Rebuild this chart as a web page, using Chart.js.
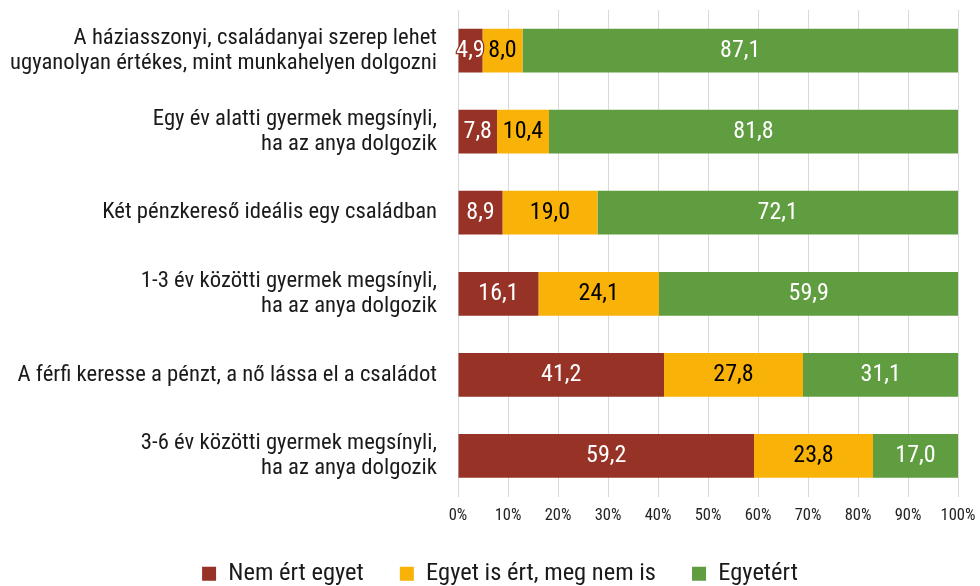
<!DOCTYPE html>
<html>
<head>
<meta charset="utf-8">
<script src="https://cdn.jsdelivr.net/npm/chart.js@4/dist/chart.umd.min.js"></script>
<style>
  html, body { margin: 0; padding: 0; background: #fff; }
  #wrap { width: 980px; height: 586px; position: relative; }
</style>
</head>
<body>
<div id="wrap"><canvas id="chart"></canvas></div>
<script>
const categories = [
  ["A háziasszonyi, családanyai szerep lehet", "ugyanolyan értékes, mint munkahelyen dolgozni"],
  ["Egy év alatti gyermek megsínyli,", "ha az anya dolgozik"],
  "Két pénzkereső ideális egy családban",
  ["1-3 év közötti gyermek megsínyli,", "ha az anya dolgozik"],
  "A férfi keresse a pénzt, a nő lássa el a családot",
  ["3-6 év közötti gyermek megsínyli,", "ha az anya dolgozik"],
];
const seriesNames = ["Nem ért egyet", "Egyet is ért, meg nem is", "Egyetért"];
const disagree = [4.9, 7.8, 8.9, 16.1, 41.2, 59.2];
const neutral = [8.0, 10.4, 19.0, 24.1, 27.8, 23.8];
const agree = [87.1, 81.8, 72.1, 59.9, 31.1, 17.0];
const xTicks = [0, 10, 20, 30, 40, 50, 60, 70, 80, 90, 100];

const colors = ["#963226", "#F9B208", "#609C40"];
const labelColors = ["#ffffff", "#000000", "#ffffff"];
const FONT = "'Roboto Condensed', 'Liberation Sans Narrow', Roboto, sans-serif";

// value labels in the middle of each segment
const valueLabels = {
  id: "valueLabels",
  afterDatasetsDraw(chart) {
    const ctx = chart.ctx;
    ctx.save();
    ctx.font = "24px " + FONT;
    ctx.textAlign = "center";
    ctx.textBaseline = "middle";
    chart.data.datasets.forEach((ds, di) => {
      const meta = chart.getDatasetMeta(di);
      meta.data.forEach((bar, i) => {
        const txt = ds.data[i].toFixed(1).replace(".", ",");
        const x = (bar.x + bar.base) / 2;
        const w = ctx.measureText(txt).width;
        if (w > Math.abs(bar.x - bar.base) && labelColors[di] === "#ffffff") {
          ctx.lineWidth = 2.5;
          ctx.strokeStyle = colors[di];
          ctx.strokeText(txt, x, bar.y);
        }
        ctx.fillStyle = labelColors[di];
        ctx.fillText(txt, x, bar.y);
      });
    });
    ctx.restore();
  }
};

// nudge the legend a bit to the right, like the original
const legendShift = {
  id: "legendShift",
  afterLayout(chart) {
    const lg = chart.legend;
    if (!lg) return;
    lg.left += 21;
    lg.right += 21;
    lg.adjustHitBoxes();
  }
};

const datasets = [disagree, neutral, agree].map((d, i) => ({
  label: seriesNames[i],
  data: d,
  backgroundColor: colors[i],
  borderWidth: 0,
  categoryPercentage: 1,
  barPercentage: 0.54,
}));

new Chart(document.getElementById("chart"), {
  type: "bar",
  data: { labels: categories, datasets },
  plugins: [valueLabels, legendShift],
  options: {
    indexAxis: "y",
    responsive: true,
    maintainAspectRatio: false,
    animation: false,
    layout: { padding: { top: 10, right: 22, bottom: -10, left: 0 } },
    scales: {
      x: {
        stacked: true,
        min: 0,
        max: 100,
        afterBuildTicks: (scale) => { scale.ticks = xTicks.map(v => ({ value: v })); },
        afterFit: (scale) => {
          scale.height = 29;
          scale.paddingLeft = 0;
          scale.paddingRight = 0;
        },
        grid: { color: "#d9d9d9", lineWidth: 1, drawTicks: false },
        border: { display: false },
        ticks: {
          padding: 9,
          color: "#222",
          font: { family: FONT, size: 16.5 },
          callback: (v) => v + "%",
        },
      },
      y: {
        stacked: true,
        afterFit: (scale) => {
          scale.width = 458;
          scale.paddingTop = 0;
          scale.paddingBottom = 0;
        },
        grid: { display: false, drawTicks: false },
        border: { display: false },
        ticks: {
          padding: 21,
          color: "#1a1a1a",
          font: { family: FONT, size: 22.7, lineHeight: 1.1 },
        },
      },
    },
    plugins: {
      legend: {
        position: "bottom",
        labels: {
          boxWidth: 14,
          boxHeight: 14,
          padding: 36,
          color: "#1a1a1a",
          font: { family: FONT, size: 24.5 },
        },
      },
      tooltip: { enabled: false },
    },
  },
});
</script>
</body>
</html>
